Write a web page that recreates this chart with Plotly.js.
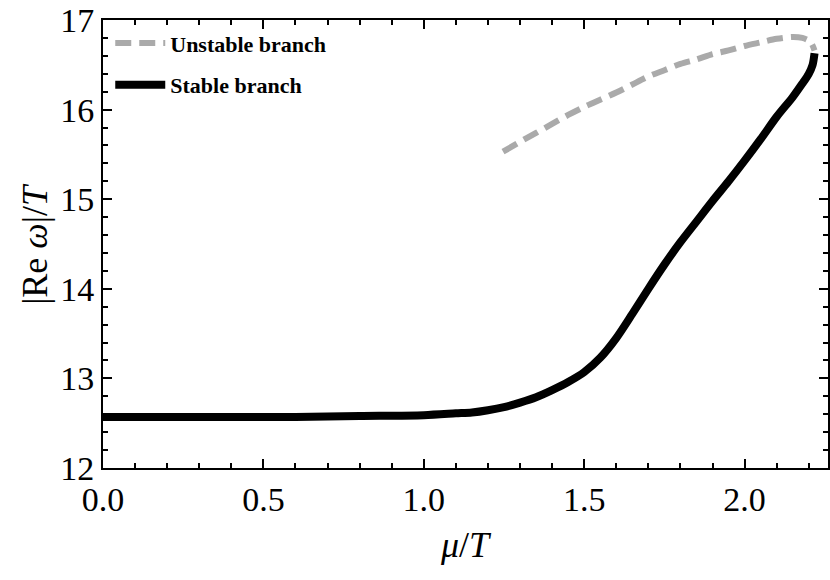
<!DOCTYPE html>
<html>
<head>
<meta charset="utf-8">
<script src="https://cdn.plot.ly/plotly-3.0.1.min.js"></script>
<style>
  body { margin: 0; background: #fff; }
  #chart { width: 830px; height: 580px; }
</style>
</head>
<body>
<div id="chart"></div>
<script>
// Stable branch (black, solid)
const stableMu = [0.0, 0.2, 0.4, 0.6, 0.8, 1.0, 1.1, 1.15, 1.2, 1.25, 1.3, 1.35, 1.4, 1.45, 1.5, 1.55, 1.6, 1.65, 1.7, 1.75, 1.8, 1.85, 1.9, 1.95, 2.0, 2.05, 2.1, 2.15, 2.18, 2.2, 2.212, 2.218];
const stableW = [12.57, 12.57, 12.57, 12.57, 12.58, 12.59, 12.61, 12.62, 12.645, 12.68, 12.73, 12.79, 12.87, 12.96, 13.07, 13.23, 13.45, 13.72, 14.0, 14.27, 14.52, 14.75, 14.98, 15.2, 15.43, 15.67, 15.92, 16.14, 16.29, 16.4, 16.5, 16.63];

// Unstable branch (grey, dashed)
const unstableMu = [1.247, 1.3, 1.35, 1.4, 1.45, 1.5, 1.55, 1.6, 1.65, 1.7, 1.75, 1.8, 1.85, 1.9, 1.95, 2.0, 2.05, 2.1, 2.15, 2.18, 2.2, 2.21, 2.218];
const unstableW = [15.53, 15.64, 15.74, 15.84, 15.94, 16.03, 16.11, 16.19, 16.28, 16.37, 16.44, 16.51, 16.56, 16.62, 16.66, 16.71, 16.75, 16.79, 16.81, 16.80, 16.77, 16.73, 16.66];

const serif = 'Liberation Serif, Times New Roman, serif';

const traces = [
  {
    x: unstableMu, y: unstableW,
    type: 'scatter', mode: 'lines',
    name: 'Unstable branch', legendgroup: 'u',
    line: {color: '#aaaaaa', width: 6, dash: '16px,8px', shape: 'spline', smoothing: 0.8}
  },
  {
    x: stableMu, y: stableW,
    type: 'scatter', mode: 'lines',
    name: 'Stable branch', legendgroup: 's',
    line: {color: '#000000', width: 8, shape: 'spline', smoothing: 0.8}
  }
];

const axisCommon = {
  showline: true, linecolor: '#000', linewidth: 2, mirror: 'allticks',
  ticks: 'inside', ticklen: 9, tickwidth: 2, tickcolor: '#000',
  showgrid: false, zeroline: false,
  tickfont: {family: serif, size: 34, color: '#000'}
};

// axis titles drawn as annotations
const titleFont = {family: serif, size: 36, color: '#000'};

const layout = {
  width: 830, height: 580,
  margin: {l: 103, r: 2, t: 20, b: 112},
  showlegend: true,
  legend: {
    x: 0.01, y: 0.995, xanchor: 'left', yanchor: 'top',
    bgcolor: 'rgba(0,0,0,0)', borderwidth: 0,
    font: {family: serif, size: 22, color: '#000', weight: 'bold'},
    itemwidth: 50, tracegroupgap: 10
  },
  xaxis: Object.assign({}, axisCommon, {
    range: [0, 2.26], tick0: 0, dtick: 0.5, tickformat: '.1f',
    minor: {tick0: 0, dtick: 0.1, ticks: 'inside', ticklen: 5, tickwidth: 2, tickcolor: '#000'}
  }),
  yaxis: Object.assign({}, axisCommon, {
    range: [12, 17], tick0: 12, dtick: 1,
    minor: {tick0: 12, dtick: 0.2, ticks: 'inside', ticklen: 5, tickwidth: 2, tickcolor: '#000'}
  }),
  annotations: [
    {text: '<i>μ</i>/<i>T</i>', xref: 'paper', yref: 'paper', x: 0.5, y: -0.172,
     xanchor: 'center', yanchor: 'middle', showarrow: false, font: titleFont},
    {text: '|Re <i>ω</i>|/<i>T</i>', xref: 'paper', yref: 'paper', x: -0.094, y: 0.5,
     xanchor: 'center', yanchor: 'middle', textangle: -90, showarrow: false, font: titleFont}
  ]
};

Plotly.newPlot('chart', traces, layout, {displayModeBar: false, staticPlot: true});
</script>
</body>
</html>
